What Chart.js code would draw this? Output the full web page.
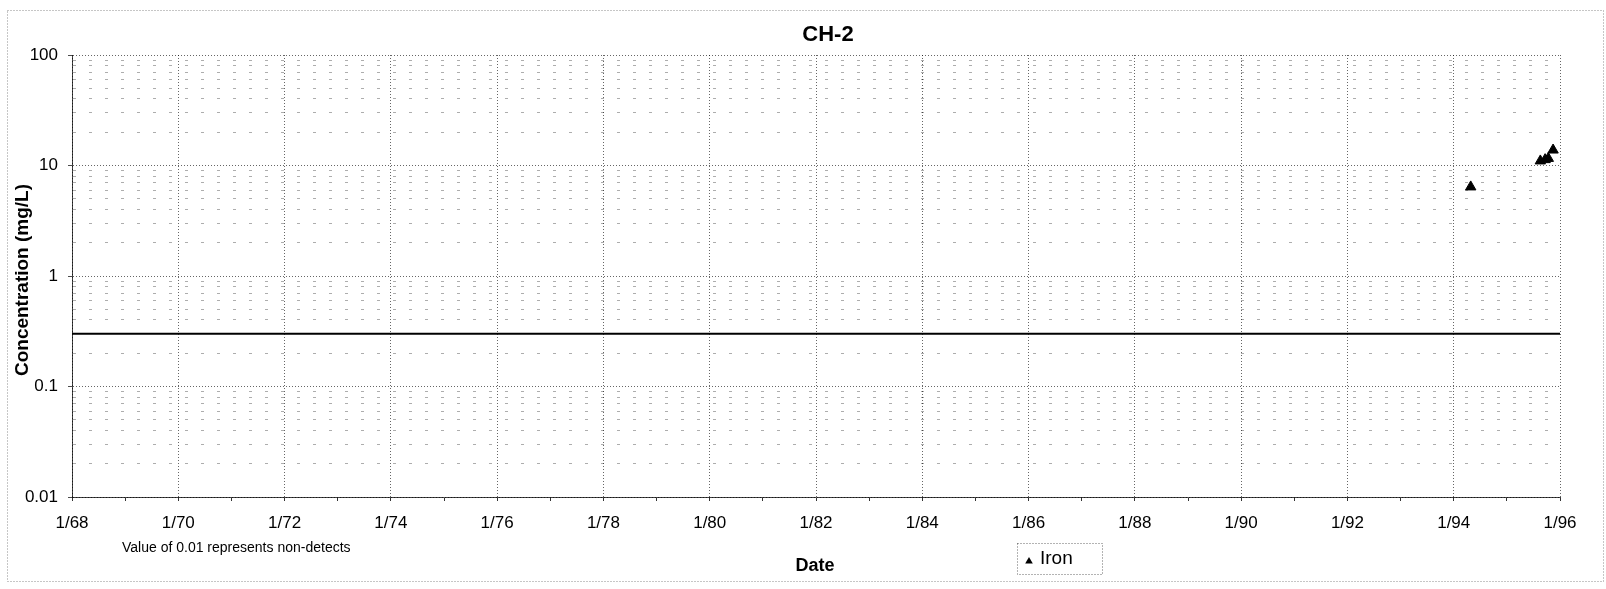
<!DOCTYPE html>
<html>
<head>
<meta charset="utf-8">
<script src="https://cdn.jsdelivr.net/npm/chart.js@4.4.1/dist/chart.umd.min.js"></script>
<style>
  html, body { margin: 0; padding: 0; background: #ffffff; }
  canvas { display: block; }
</style>
</head>
<body>
<canvas id="c" width="1606" height="589"></canvas>
<script>
// ---- data ----
const ironDates = [1994.32, 1995.63, 1995.72, 1995.78, 1995.87];   // decimal years
const ironValues = [6.4, 11.0, 11.3, 11.6, 13.8];                   // mg/L
const standardDates = [1968, 1996];
const standardValues = [0.3, 0.3];                                  // mg/L reference line
const xTickYears = [1968, 1970, 1972, 1974, 1976, 1978, 1980, 1982, 1984, 1986, 1988, 1990, 1992, 1994, 1996];
const xTickLabels = ['1/68', '1/70', '1/72', '1/74', '1/76', '1/78', '1/80', '1/82', '1/84', '1/86', '1/88', '1/90', '1/92', '1/94', '1/96'];
const yTickValues = [0.01, 0.1, 1, 10, 100];
const yTickLabels = ['0.01', '0.1', '1', '10', '100'];
const chartTitle = 'CH-2';
const yTitle = 'Concentration (mg/L)';
const xTitle = 'Date';
const noteText = 'Value of 0.01 represents non-detects';
const seriesName = 'Iron';

const FONT = '"Liberation Sans", Arial, Helvetica, sans-serif';
Chart.defaults.font.family = FONT;
Chart.defaults.color = '#000';

function isDecade(v) {
  const l = Math.log10(v);
  return Math.abs(l - Math.round(l)) < 1e-9;
}

// all minor/major positions for the log grid
const yGridValues = [];
for (let d = -2; d <= 1; d++) {
  for (let m = 1; m <= 9; m++) yGridValues.push(parseFloat((m * Math.pow(10, d)).toPrecision(6)));
}
yGridValues.push(100);

const allYears = [];
for (let y = xTickYears[0]; y <= xTickYears[xTickYears.length - 1]; y++) allYears.push(y);

const decorPlugin = {
  id: 'decor',
  afterDraw(chart) {
    const ctx = chart.ctx;
    ctx.save();
    // outer dotted frame
    ctx.strokeStyle = 'rgba(0,0,0,0.45)';
    ctx.lineWidth = 1;
    ctx.setLineDash([1, 2]);
    ctx.strokeRect(7.5, 10.5, 1596, 571);

    ctx.fillStyle = '#000';
    ctx.setLineDash([]);
    // title
    ctx.font = 'bold 22px ' + FONT;
    ctx.textAlign = 'center';
    ctx.textBaseline = 'middle';
    ctx.fillText(chartTitle, 828, 35);

    // y title
    ctx.save();
    ctx.translate(23, 280);
    ctx.rotate(-Math.PI / 2);
    ctx.font = 'bold 19px ' + FONT;
    ctx.fillText(yTitle, 0, 0);
    ctx.restore();

    // x title
    ctx.font = 'bold 18px ' + FONT;
    ctx.fillText(xTitle, 815, 566);

    // note
    ctx.font = '14px ' + FONT;
    ctx.textAlign = 'left';
    ctx.fillText(noteText, 122, 548);

    // legend box
    ctx.strokeStyle = 'rgba(0,0,0,0.6)';
    ctx.setLineDash([1, 2]);
    ctx.strokeRect(1017.5, 543.5, 85, 31);
    ctx.setLineDash([]);
    // legend marker
    const mx = 1029, my = 561, r = 4;
    ctx.beginPath();
    ctx.moveTo(mx, my - r);
    ctx.lineTo(mx + r * 0.95, my + r * 0.6);
    ctx.lineTo(mx - r * 0.95, my + r * 0.6);
    ctx.closePath();
    ctx.fill();
    ctx.font = '19px ' + FONT;
    ctx.textAlign = 'left';
    ctx.fillText(seriesName, 1040, 559);
    ctx.restore();
  }
};

new Chart(document.getElementById('c'), {
  type: 'scatter',
  data: {
    datasets: [
      {
        label: seriesName,
        data: ironDates.map((d, i) => ({ x: d, y: ironValues[i] })),
        pointStyle: 'triangle',
        pointRadius: 6,
        pointBackgroundColor: '#000',
        pointBorderColor: '#000',
        pointBorderWidth: 1,
        showLine: false,
        order: 0
      },
      {
        label: 'Standard',
        data: standardDates.map((d, i) => ({ x: d, y: standardValues[i] })),
        showLine: true,
        borderColor: '#000',
        borderWidth: 2,
        pointRadius: 0,
        order: 1
      }
    ]
  },
  options: {
    responsive: false,
    animation: false,
    devicePixelRatio: 1,
    layout: { padding: { left: 0, right: 46, top: 55, bottom: 0 } },
    plugins: {
      legend: { display: false },
      title: { display: false },
      tooltip: { enabled: false }
    },
    scales: {
      x: {
        type: 'linear',
        min: xTickYears[0],
        max: xTickYears[xTickYears.length - 1],
        afterBuildTicks: (scale) => { scale.ticks = allYears.map(v => ({ value: v })); },
        afterFit: (scale) => { scale.height = 92; },
        ticks: {
          autoSkip: false,
          maxRotation: 0,
          padding: 12,
          font: { size: 17 },
          color: '#000',
          callback: (v) => {
            const i = xTickYears.indexOf(v);
            return i >= 0 ? xTickLabels[i] : '';
          }
        },
        grid: {
          color: (c) => (c.tick && c.tick.value % 2 !== 0) ? 'rgba(0,0,0,0)' : 'rgba(0,0,0,0.6)',
          tickColor: 'rgba(0,0,0,0.8)',
          tickLength: 4,
          lineWidth: 1
        },
        border: { display: true, color: 'rgba(0,0,0,0.75)', dash: [1, 2] }
      },
      y: {
        type: 'logarithmic',
        min: 0.01,
        max: 100,
        afterBuildTicks: (scale) => { scale.ticks = yGridValues.map(v => ({ value: v })); },
        afterFit: (scale) => { scale.width = 72; },
        ticks: {
          autoSkip: false,
          padding: 10,
          font: { size: 17 },
          color: '#000',
          callback: (v) => {
            for (let i = 0; i < yTickValues.length; i++) {
              if (Math.abs(v - yTickValues[i]) < yTickValues[i] * 1e-6) return yTickLabels[i];
            }
            return '';
          }
        },
        grid: {
          color: (c) => (!c.tick || isDecade(c.tick.value)) ? 'rgba(0,0,0,0.6)' : 'rgba(0,0,0,0.32)',
          tickColor: (c) => (!c.tick || isDecade(c.tick.value)) ? 'rgba(0,0,0,0.7)' : 'rgba(0,0,0,0)',
          tickLength: 4,
          lineWidth: 1
        },
        border: {
          display: true,
          color: 'rgba(0,0,0,0.75)',
          dash: (c) => (!c.tick || isDecade(c.tick.value)) ? [1, 2] : [3, 13]
        }
      }
    }
  },
  plugins: [decorPlugin]
});
</script>
</body>
</html>
